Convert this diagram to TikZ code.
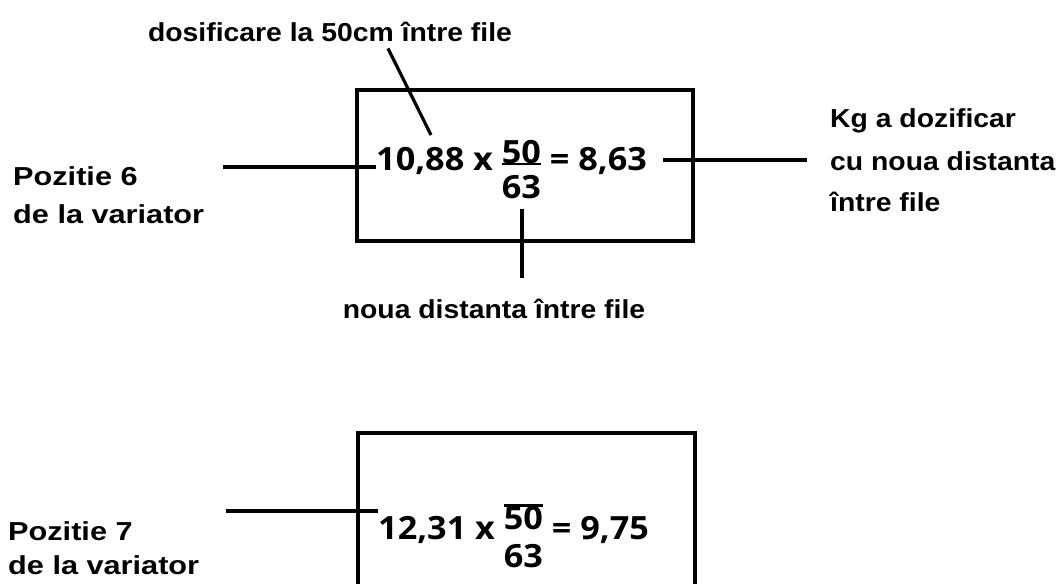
\documentclass[tikz,border=0pt]{standalone}
\usepackage{fontspec}
\usepackage{tikz}
\usetikzlibrary{calc, positioning}
\newfontfamily\lblfont[FakeStretch=1.09]{Liberation Sans}
\newfontfamily\sidefont[FakeStretch=1.18]{Liberation Sans}
\newfontfamily\eqfont[FakeStretch=1.07]{Open Sans}
% fraction written as two stacked numbers with a bar
\newcommand\fracbar[4]{%
	\setbox0=\hbox{#1}%
	\raisebox{#3}{\copy0}\llap{\raisebox{-28.5pt}{#2}}\llap{\rule[#4]{\wd0}{2.4pt}}}
\tikzset{
	lbl/.style={inner sep=0pt, font=\lblfont\bfseries\fontsize{26}{30}\selectfont},
	sidelbl/.style={inner sep=0pt, align=left, anchor=north west, font=\sidefont\bfseries\fontsize{26}{30}\selectfont},
	eqn/.style={inner sep=0pt, anchor=base west, font=\eqfont\bfseries\fontsize{32}{38}\selectfont},
	panel/.style={draw, line width=3.4pt},
	line/.style={draw, line width=3.2pt}
}
\begin{document}
\begin{tikzpicture}[x=1pt, y=-1pt]
		\useasboundingbox (0,0) rectangle (1059,583);
		
		% First calculation (position 6)
		\draw[panel] (357,90) rectangle (693,241);
		\node[eqn] (eq6) at (376,170) {10,88 x \fracbar{50}{63}{7pt}{5pt} = 8,63};
		
		% Labels round the first box
		\node[lbl, anchor=base] (dos) at (330,42) {dosificare la 50cm între file};
		\node[sidelbl] (pos6) at (13,166) {Pozitie 6\\[8pt]de la variator};
		\node[lbl, align=left, anchor=north west] (kg) at (830,108) {Kg a dozificar\\[13pt]cu noua distanta\\[11pt]între file};
		\node[lbl, anchor=base] (nd) at (494,318) {noua distanta între file};
		
		% Leader lines
		\coordinate (l6) at (223,167);
		\coordinate (r6) at (807,160);
		\coordinate (d6) at (431,135);
		\coordinate (f6) at (522,209);
		\draw[line] (l6) -- (l6 -| eq6.west);
		\draw[line] (r6 -| eq6.east) ++(16,0) -- (r6);
		\draw[line] ([shift={(58,6)}]dos.south) -- (d6);
		\draw[line, shorten >=20pt] (f6) -- (f6 |- nd.north);
		
		% Second calculation (position 7), box cut by the page edge
		\draw[panel] (358,433) rectangle (695,600);
		\node[eqn] (eq7) at (378,539) {12,31 x \fracbar{50}{63}{10pt}{32.5pt} = 9,75};
		\node[sidelbl] (pos7) at (8,521) {Pozitie 7\\[4pt]de la variator};
		\coordinate (l7) at (226,511);
		\draw[line] (l7) -- (l7 -| eq7.west);
		
	\end{tikzpicture}
\end{document}
